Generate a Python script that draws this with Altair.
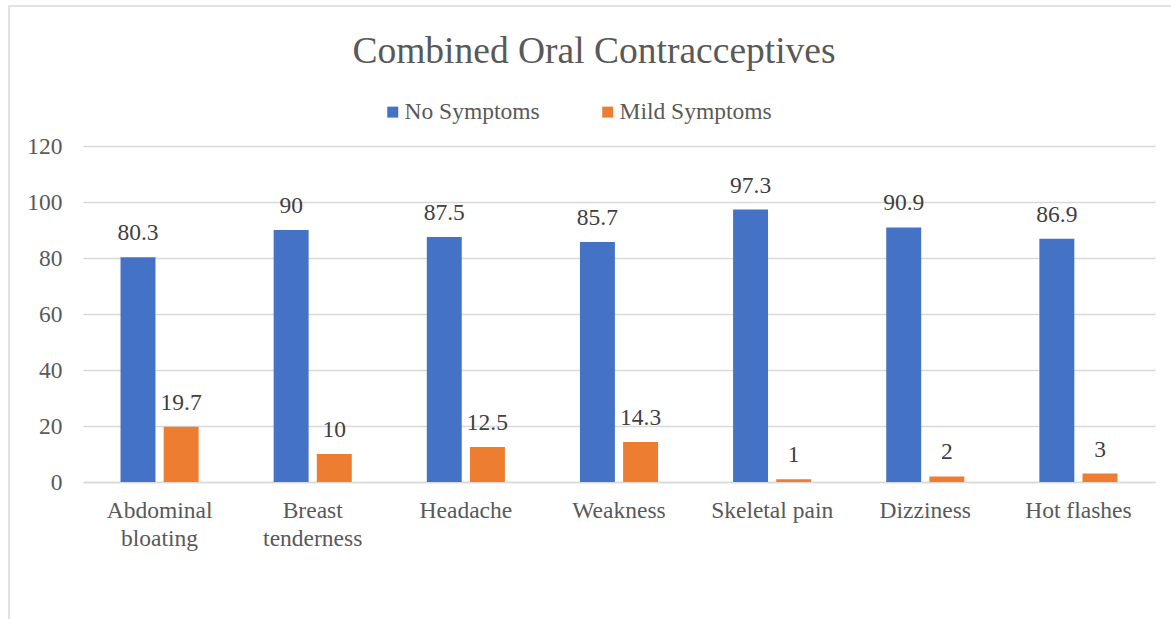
import altair as alt
import pandas as pd

categories = ["Abdominal bloating", "Breast tenderness", "Headache", "Weakness",
              "Skeletal pain", "Dizziness", "Hot flashes"]
no_symptoms = [80.3, 90, 87.5, 85.7, 97.3, 90.9, 86.9]
mild_symptoms = [19.7, 10, 12.5, 14.3, 1, 2, 3]
series = ["No Symptoms", "Mild Symptoms"]
colors = ["#4472C4", "#ED7D31"]
title_text = ["Combined Oral Contracceptives"]

rows = []
for c, a, b in zip(categories, no_symptoms, mild_symptoms):
    rows.append({"cat": c, "series": series[0], "value": a})
    rows.append({"cat": c, "series": series[1], "value": b})
df = pd.DataFrame(rows)

FONT = "Liberation Serif"
FS = 23.5
W, H = 1072, 336

x = alt.X("cat:N", sort=categories, title=None,
          scale=alt.Scale(paddingInner=0.49, paddingOuter=0.245),
          axis=alt.Axis(labelAngle=0, labelFontSize=FS, labelFont=FONT,
                        labelColor="#595959", labelPadding=16, ticks=False,
                        domainColor="#d9d9d9", domainWidth=1.3, labelLineHeight=28,
                        labelExpr="datum.label == 'Abdominal bloating' ? ['Abdominal', 'bloating'] : datum.label == 'Breast tenderness' ? ['Breast', 'tenderness'] : datum.label"))
xoff = alt.XOffset("series:N", sort=series, scale=alt.Scale(paddingInner=0.19))
y = alt.Y("value:Q", title=None,
          scale=alt.Scale(domain=[0, 120]),
          axis=alt.Axis(values=[0, 20, 40, 60, 80, 100, 120], labelFontSize=FS,
                        labelFont=FONT, labelColor="#595959", ticks=False,
                        domain=False, gridColor="#d9d9d9", gridWidth=1.3,
                        labelPadding=21))
color = alt.Color("series:N", sort=series,
                  scale=alt.Scale(domain=series, range=colors),
                  legend=alt.Legend(title=None, orient="none", direction="horizontal",
                                    legendX=298, legendY=-46, symbolType="square",
                                    symbolSize=121, symbolStrokeWidth=0,
                                    labelFontSize=FS, labelFont=FONT,
                                    labelColor="#595959", columnPadding=56,
                                    labelOffset=0))

bars = alt.Chart(df).mark_bar().encode(x=x, xOffset=xoff, y=y, color=color)
labels = alt.Chart(df).mark_text(baseline="alphabetic", dy=-17, fontSize=FS, font=FONT,
                                 color="#404040").encode(
    x=alt.X("cat:N", sort=categories), xOffset=alt.XOffset("series:N", sort=series),
    y="value:Q", text=alt.Text("value:Q"))

border = alt.Chart(pd.DataFrame({"a": [0]})).mark_rect(
    fill=None, stroke="#d9d9d9", strokeWidth=1.5, clip=False).encode(
    x=alt.value(-74), x2=alt.value(1092), y=alt.value(-140), y2=alt.value(479))

title = alt.Chart(pd.DataFrame({"t": title_text})).mark_text(
    fontSize=37.5, font=FONT, color="#595959", align="center",
    baseline="alphabetic").encode(
    x=alt.value(511), y=alt.value(-83), text="t:N")

chart = alt.layer(border, bars, labels, title).properties(
    width=W, height=H,
    autosize=alt.AutoSizeParams(type="none"),
    padding={"left": 83, "top": 146, "right": 16, "bottom": 137},
    background="white",
).configure_view(stroke=None)

chart.save("out.html", embed_options={"renderer": "svg", "actions": False})
